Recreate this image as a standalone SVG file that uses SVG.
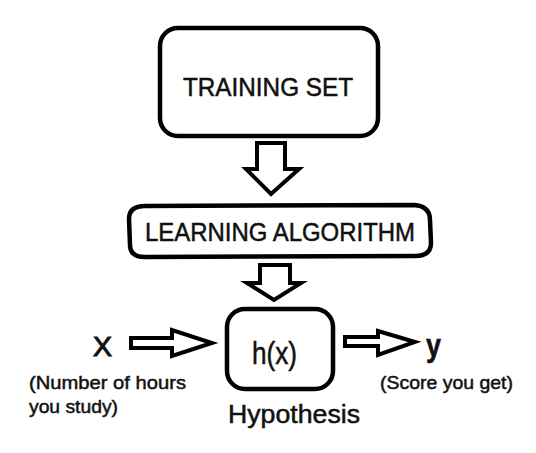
<svg xmlns="http://www.w3.org/2000/svg" width="536" height="453" viewBox="0 0 536 453">
  <style>
    .box { fill: #ffffff; stroke: #000000; stroke-width: 4.5; stroke-linejoin: round; }
    .arrow { fill: #ffffff; stroke: #000000; stroke-width: 4; stroke-linejoin: miter; }
    .t { font-family: "Liberation Sans", Arial, sans-serif; fill: #111111; stroke: #111111; stroke-width: 0.5; }
  </style>
  <rect width="536" height="453" fill="#ffffff"/>
  <g id="training-set">
    <rect class="box" x="160" y="28" width="218" height="108" rx="18" ry="18"/>
    <text class="t" x="183" y="96" font-size="25" textLength="170" lengthAdjust="spacingAndGlyphs">TRAINING SET</text>
  </g>
  <g id="learning-algorithm">
    <path class="box" d="M 145,206 L 414,205 Q 430,206 430,220 L 431,243 Q 431,256 415,256 L 145,257 Q 130,257 130,245 L 129,219 Q 129,206 145,206 Z"/>
    <text class="t" x="145" y="241" font-size="25" textLength="270" lengthAdjust="spacingAndGlyphs">LEARNING ALGORITHM</text>
  </g>
  <g id="hypothesis">
    <rect class="box" x="227" y="309" width="106" height="80" rx="18" ry="18"/>
    <text class="t" x="252" y="364" font-size="31" textLength="45" lengthAdjust="spacingAndGlyphs">h(x)</text>
    <text class="t" x="228" y="423" font-size="25" textLength="132" lengthAdjust="spacingAndGlyphs">Hypothesis</text>
  </g>
  <g id="input-x">
    <text class="t" x="93" y="356" font-size="28" textLength="19" lengthAdjust="spacingAndGlyphs" style="stroke-width:1">X</text>
    <text class="t" x="29" y="389" font-size="19" textLength="157" lengthAdjust="spacingAndGlyphs">(Number of hours</text>
    <text class="t" x="29" y="413" font-size="19" textLength="89" lengthAdjust="spacingAndGlyphs">you study)</text>
  </g>
  <g id="output-y">
    <text class="t" x="426" y="356" font-size="32" font-weight="bold" textLength="15" lengthAdjust="spacingAndGlyphs">y</text>
    <text class="t" x="380" y="389" font-size="19" textLength="133" lengthAdjust="spacingAndGlyphs">(Score you get)</text>
  </g>
  <g id="connectors">
    <path class="arrow" d="M 257,143 L 285,143 L 285,169 L 299,169 L 271,194 L 246,169 L 257,169 Z"/>
    <path class="arrow" d="M 260,265 L 290,265 L 290,283 L 301,283 L 274,300 L 247,283 L 260,283 Z"/>
    <path class="arrow" d="M 131,338 L 172,338 L 172,330 L 212,343 L 172,356 L 172,348 L 131,348 Z"/>
    <path class="arrow" d="M 345,337 L 378,337 L 378,331 L 415,342 L 378,355 L 378,346 L 345,346 Z"/>
  </g>
</svg>
